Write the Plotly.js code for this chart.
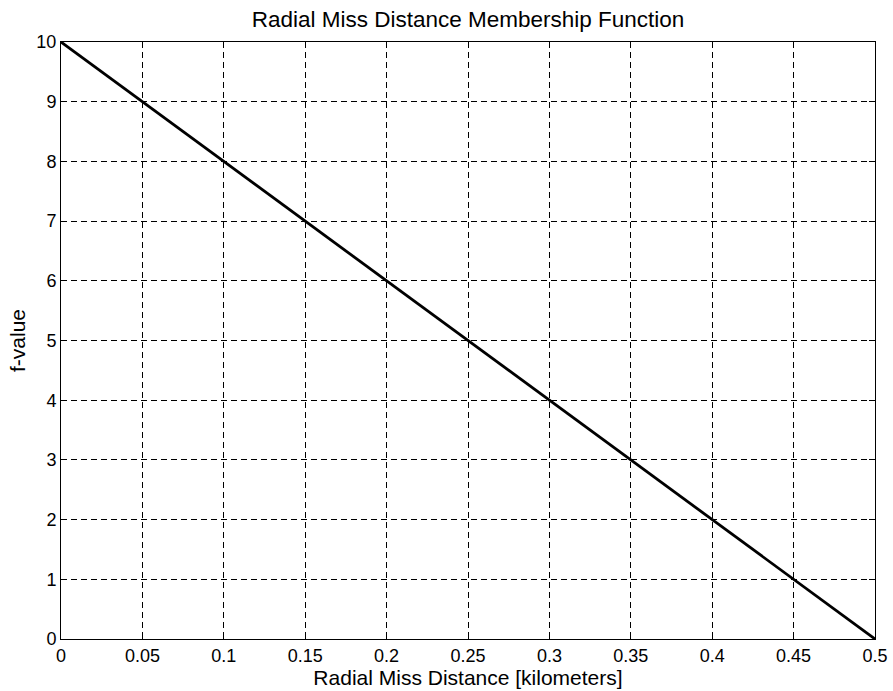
<!DOCTYPE html>
<html>
<head>
<meta charset="utf-8">
<script src="https://cdn.plot.ly/plotly-3.0.1.min.js"></script>
<style>html,body{margin:0;padding:0;background:#fff;}#chart{width:893px;height:691px;}</style>
</head>
<body>
<div id="chart"></div>
<script>
var distanceKm = [0, 0.05, 0.1, 0.15, 0.2, 0.25, 0.3, 0.35, 0.4, 0.45, 0.5];
var fValue = [10, 9, 8, 7, 6, 5, 4, 3, 2, 1, 0];
var xTickVals = [0, 0.05, 0.1, 0.15, 0.2, 0.25, 0.3, 0.35, 0.4, 0.45, 0.5];
var xTickText = ["0", "0.05", "0.1", "0.15", "0.2", "0.25", "0.3", "0.35", "0.4", "0.45", "0.5"];
var yTickVals = [0, 1, 2, 3, 4, 5, 6, 7, 8, 9, 10];
var yTickText = ["0", "1", "2", "3", "4", "5", "6", "7", "8", "9", "10"];

var fontFam = "Liberation Sans, Arial, Helvetica, sans-serif";

var trace = {
  x: distanceKm,
  y: fValue,
  type: "scatter",
  mode: "lines",
  line: {color: "#000", width: 2.8},
  hoverinfo: "skip"
};

var axisCommon = {
  showline: true,
  linecolor: "#000",
  linewidth: 1,
  mirror: "ticks",
  ticks: "inside",
  ticklen: 6,
  tickcolor: "#000",
  tickwidth: 1,
  showgrid: true,
  gridcolor: "#000",
  gridwidth: 1,
  griddash: "6px,4px",
  zeroline: false,
  tickfont: {family: fontFam, size: 18, color: "#000"},
  tickmode: "array"
};

var layout = {
  width: 893,
  height: 691,
  paper_bgcolor: "#fff",
  plot_bgcolor: "#fff",
  margin: {l: 61, r: 18, t: 42, b: 52},
  showlegend: false,
  title: {
    text: "Radial Miss Distance Membership Function",
    font: {family: fontFam, size: 22.5, color: "#000"},
    x: 0.5, xref: "paper",
    y: 1 - 19 / 691, yref: "container", yanchor: "middle"
  },
  xaxis: Object.assign({}, axisCommon, {
    range: [0, 0.5],
    tickvals: xTickVals,
    ticktext: xTickText,
    ticklabelstandoff: 0,
    title: {text: "Radial Miss Distance [kilometers]", font: {family: fontFam, size: 21, color: "#000"}, standoff: 1}
  }),
  yaxis: Object.assign({}, axisCommon, {
    range: [0, 10],
    tickvals: yTickVals,
    ticktext: yTickText,
    ticklabelstandoff: 0,
    title: {text: "f-value", font: {family: fontFam, size: 21, color: "#000"}, standoff: 5}
  })
};

Plotly.newPlot("chart", [trace], layout, {displayModeBar: false, staticPlot: true});
</script>
</body>
</html>
